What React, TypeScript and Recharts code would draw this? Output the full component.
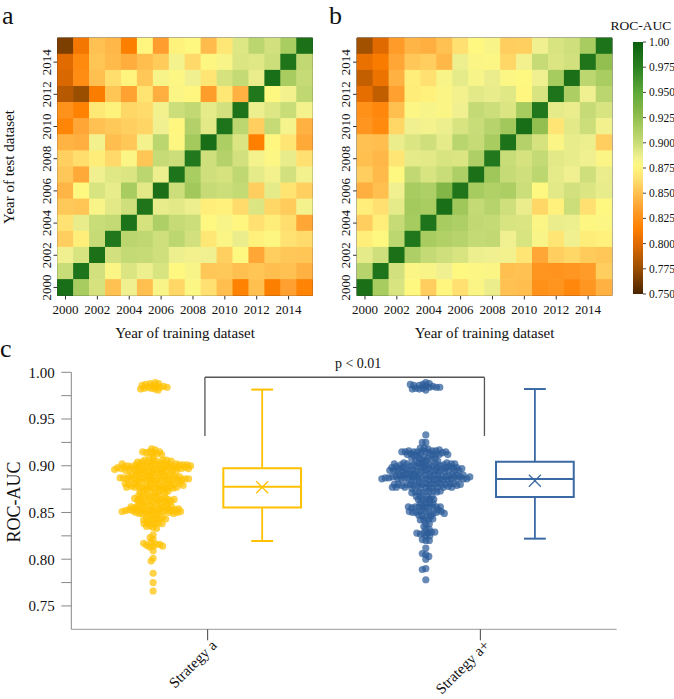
import React from 'react';
import {
  ScatterChart,
  ComposedChart,
  BarChart,
  Scatter,
  Bar,
  XAxis,
  YAxis,
  ReferenceArea,
  ReferenceLine,
  ReferenceDot,
} from 'recharts';

const FONT = '"Liberation Serif", "Times New Roman", serif';

// training / test years
const years = [2000, 2001, 2002, 2003, 2004, 2005, 2006, 2007, 2008, 2009, 2010, 2011, 2012, 2013, 2014, 2015];
const yearTicks = [2000, 2002, 2004, 2006, 2008, 2010, 2012, 2014];

// ROC-AUC, strategy a. rows = test year 2015 down to 2000, cols = training year 2000..2015
const aucA = [
  [0.766, 0.809, 0.851, 0.846, 0.814, 0.876, 0.834, 0.874, 0.877, 0.848, 0.868, 0.893, 0.906, 0.897, 0.914, 0.986],
  [0.801, 0.821, 0.852, 0.847, 0.841, 0.849, 0.855, 0.884, 0.861, 0.878, 0.881, 0.894, 0.892, 0.899, 0.983, 0.903],
  [0.798, 0.823, 0.85, 0.863, 0.875, 0.853, 0.882, 0.879, 0.886, 0.867, 0.896, 0.902, 0.888, 0.988, 0.915, 0.901],
  [0.785, 0.775, 0.813, 0.852, 0.836, 0.866, 0.842, 0.88, 0.876, 0.833, 0.868, 0.843, 0.982, 0.877, 0.885, 0.904],
  [0.826, 0.816, 0.869, 0.874, 0.86, 0.862, 0.885, 0.899, 0.903, 0.89, 0.897, 0.985, 0.887, 0.893, 0.9, 0.884],
  [0.818, 0.838, 0.851, 0.854, 0.857, 0.859, 0.886, 0.876, 0.91, 0.891, 0.984, 0.905, 0.856, 0.901, 0.883, 0.843],
  [0.844, 0.842, 0.885, 0.849, 0.853, 0.884, 0.906, 0.878, 0.917, 0.989, 0.913, 0.894, 0.815, 0.876, 0.867, 0.839],
  [0.857, 0.863, 0.871, 0.861, 0.88, 0.852, 0.901, 0.899, 0.981, 0.898, 0.909, 0.897, 0.884, 0.879, 0.889, 0.864],
  [0.853, 0.839, 0.886, 0.892, 0.894, 0.906, 0.887, 0.984, 0.914, 0.898, 0.896, 0.904, 0.89, 0.885, 0.897, 0.885],
  [0.845, 0.877, 0.895, 0.889, 0.915, 0.891, 0.987, 0.899, 0.918, 0.901, 0.899, 0.902, 0.856, 0.89, 0.866, 0.857],
  [0.854, 0.852, 0.881, 0.891, 0.898, 0.983, 0.889, 0.891, 0.887, 0.872, 0.873, 0.862, 0.894, 0.86, 0.855, 0.884],
  [0.865, 0.889, 0.9, 0.902, 0.985, 0.896, 0.912, 0.901, 0.899, 0.877, 0.881, 0.876, 0.864, 0.871, 0.863, 0.838],
  [0.856, 0.872, 0.901, 0.982, 0.906, 0.904, 0.898, 0.905, 0.897, 0.868, 0.88, 0.888, 0.873, 0.878, 0.865, 0.862],
  [0.886, 0.895, 0.986, 0.897, 0.902, 0.901, 0.898, 0.887, 0.885, 0.886, 0.857, 0.877, 0.838, 0.856, 0.853, 0.852],
  [0.9, 0.984, 0.897, 0.88, 0.894, 0.887, 0.895, 0.877, 0.881, 0.853, 0.854, 0.85, 0.852, 0.849, 0.851, 0.843],
  [0.988, 0.915, 0.896, 0.851, 0.886, 0.85, 0.881, 0.86, 0.879, 0.864, 0.849, 0.816, 0.85, 0.814, 0.835, 0.817],
];

// ROC-AUC, strategy a+ (same layout)
const aucB = [
  [0.778, 0.8, 0.832, 0.845, 0.842, 0.851, 0.864, 0.877, 0.881, 0.856, 0.857, 0.886, 0.895, 0.898, 0.915, 0.985],
  [0.805, 0.812, 0.838, 0.853, 0.856, 0.846, 0.887, 0.88, 0.879, 0.86, 0.885, 0.901, 0.894, 0.897, 0.983, 0.925],
  [0.79, 0.806, 0.843, 0.872, 0.864, 0.881, 0.89, 0.882, 0.888, 0.879, 0.877, 0.886, 0.916, 0.987, 0.905, 0.914],
  [0.803, 0.789, 0.835, 0.871, 0.873, 0.88, 0.885, 0.891, 0.889, 0.892, 0.876, 0.895, 0.984, 0.913, 0.886, 0.906],
  [0.825, 0.82, 0.85, 0.879, 0.882, 0.88, 0.886, 0.902, 0.899, 0.894, 0.916, 0.982, 0.89, 0.888, 0.901, 0.895],
  [0.828, 0.821, 0.86, 0.886, 0.884, 0.887, 0.895, 0.9, 0.908, 0.918, 0.989, 0.925, 0.867, 0.891, 0.899, 0.885],
  [0.851, 0.849, 0.888, 0.894, 0.898, 0.89, 0.907, 0.901, 0.915, 0.985, 0.909, 0.896, 0.88, 0.889, 0.887, 0.856],
  [0.85, 0.846, 0.867, 0.89, 0.891, 0.895, 0.894, 0.912, 0.981, 0.9, 0.896, 0.902, 0.891, 0.889, 0.886, 0.88],
  [0.856, 0.847, 0.877, 0.903, 0.895, 0.9, 0.912, 0.986, 0.919, 0.901, 0.898, 0.905, 0.89, 0.886, 0.898, 0.888],
  [0.842, 0.85, 0.886, 0.915, 0.912, 0.933, 0.983, 0.916, 0.911, 0.913, 0.899, 0.877, 0.891, 0.897, 0.894, 0.889],
  [0.872, 0.864, 0.89, 0.917, 0.914, 0.988, 0.919, 0.902, 0.908, 0.898, 0.888, 0.86, 0.873, 0.899, 0.864, 0.877],
  [0.856, 0.872, 0.901, 0.916, 0.984, 0.915, 0.912, 0.903, 0.902, 0.895, 0.894, 0.88, 0.888, 0.887, 0.878, 0.879],
  [0.872, 0.877, 0.905, 0.982, 0.915, 0.911, 0.908, 0.902, 0.903, 0.886, 0.895, 0.881, 0.867, 0.886, 0.871, 0.873],
  [0.89, 0.898, 0.986, 0.912, 0.902, 0.898, 0.895, 0.887, 0.886, 0.885, 0.867, 0.838, 0.856, 0.86, 0.855, 0.853],
  [0.908, 0.984, 0.897, 0.88, 0.881, 0.886, 0.877, 0.879, 0.88, 0.85, 0.851, 0.828, 0.827, 0.829, 0.832, 0.856],
  [0.987, 0.915, 0.895, 0.877, 0.856, 0.876, 0.864, 0.88, 0.888, 0.851, 0.849, 0.825, 0.828, 0.82, 0.829, 0.843],
];

const colorbarTicks = [0.75, 0.775, 0.8, 0.825, 0.85, 0.875, 0.9, 0.925, 0.95, 0.975, 1];

// panel c
const strategies = ['Strategy a', 'Strategy a+'];
const boxMin = [0.8195, 0.822];
const boxQ1 = [0.8552, 0.8666];
const boxMedian = [0.8776, 0.8859];
const boxQ3 = [0.8973, 0.9044];
const boxMax = [0.9815, 0.9821];
const boxMean = [0.877, 0.884];
const rocTicks = [0.75, 0.775, 0.8, 0.825, 0.85, 0.875, 0.9, 0.925, 0.95, 0.975, 1];
const pLabel = 'p < 0.01';

const seriesColors = ['#FFC000', '#2B5C98'];
const boxColors = ['#FFC000', '#3A69A4'];

// colour scale of the heatmaps
const cmap: [number, string][] = [
  [0.75, '#4a2400'],
  [0.775, '#9a4e00'],
  [0.8, '#e06a00'],
  [0.815, '#ff8000'],
  [0.825, '#ff9018'],
  [0.835, '#ffa030'],
  [0.85, '#ffc050'],
  [0.864, '#ffe070'],
  [0.877, '#fff880'],
  [0.886, '#f0f090'],
  [0.895, '#d8e480'],
  [0.9, '#c8dc78'],
  [0.915, '#a8cc60'],
  [0.93, '#88b848'],
  [0.95, '#5fa83a'],
  [0.975, '#2a8020'],
  [1, '#0a5f0e'],
];

const rgb = (h: string) => [1, 3, 5].map((i) => parseInt(h.slice(i, i + 2), 16));

const aucColor = (v: number) => {
  const c = Math.min(1, Math.max(0.75, v));
  let k = 0;
  while (k < cmap.length - 2 && c > cmap[k + 1][0]) k++;
  const [v0, h0] = cmap[k];
  const [v1, h1] = cmap[k + 1];
  const t = (c - v0) / (v1 - v0);
  const a = rgb(h0);
  const b = rgb(h1);
  const m = a.map((x, i) => Math.round(x + (b[i] - x) * t));
  return `rgb(${m[0]},${m[1]},${m[2]})`;
};

// heatmap geometry
const HM_H = 340;
const HM_TOP = 38;
const HM_XAXIS_H = 44.5;

const yearTickV = (p: any) => (
  <text
    x={p.x}
    y={p.y}
    transform={`rotate(-90 ${p.x} ${p.y})`}
    textAnchor="middle"
    fontSize={13}
    fill="#111"
    fontFamily={FONT}
  >
    {p.payload.value}
  </text>
);

function Heatmap({ matrix, width, yAxisWidth, right }: { matrix: number[][]; width: number; yAxisWidth: number; right: number }) {
  const cells = matrix.flatMap((row, i) => row.map((v, j) => ({ x: years[j], y: years[years.length - 1 - i], v })));
  const cw = (width - yAxisWidth - right) / years.length;
  const ch = (HM_H - HM_TOP - HM_XAXIS_H) / years.length;
  return (
    <ScatterChart width={width} height={HM_H} margin={{ top: HM_TOP, right, bottom: 0, left: 0 }}>
      <XAxis
        type="number"
        dataKey="x"
        domain={[1999.5, 2015.5]}
        ticks={yearTicks}
        interval={0}
        height={HM_XAXIS_H}
        tickSize={4}
        tickMargin={5}
        axisLine={false}
        tickLine={{ stroke: '#333' }}
        tick={{ fontSize: 13, fill: '#111', fontFamily: FONT }}
      />
      <YAxis
        type="number"
        dataKey="y"
        domain={[1999.5, 2015.5]}
        ticks={yearTicks}
        interval={0}
        width={yAxisWidth}
        tickSize={4}
        tickMargin={3}
        axisLine={false}
        tickLine={{ stroke: '#333' }}
        tick={yearTickV}
      />
      <Scatter
        data={cells}
        isAnimationActive={false}
        shape={(p: any) => (
          <rect
            x={p.cx - cw / 2 - 0.3}
            y={p.cy - ch / 2 - 0.3}
            width={cw + 0.6}
            height={ch + 0.6}
            fill={aucColor(p.payload.v)}
          />
        )}
      />
      <ReferenceArea x1={1999.5} x2={2015.5} y1={1999.5} y2={2015.5} fill="none" fillOpacity={0} stroke="#333" strokeWidth={1} />
    </ScatterChart>
  );
}

function Colorbar() {
  const data = [{ k: 'roc', r: [0.75, 1] }];
  return (
    <BarChart width={54} height={320} data={data} margin={{ top: 42, right: 0, bottom: 26, left: 13 }} barCategoryGap={0}>
      <defs>
        <linearGradient id="cbGrad" x1="0" y1="1" x2="0" y2="0">
          {cmap.map(([v, c]) => (
            <stop key={v} offset={(v - 0.75) / 0.25} stopColor={c} />
          ))}
        </linearGradient>
      </defs>
      <XAxis dataKey="k" hide />
      <YAxis
        orientation="right"
        type="number"
        domain={[0.75, 1]}
        ticks={colorbarTicks}
        interval={0}
        width={31}
        tickSize={3}
        tickMargin={3}
        axisLine={false}
        tickLine={{ stroke: '#444' }}
        tick={{ fontSize: 11.5, fill: '#111', fontFamily: FONT }}
        tickFormatter={(v: number) => (v === 1 ? '1.00' : v.toFixed(3))}
      />
      <Bar dataKey="r" fill="url(#cbGrad)" isAnimationActive={false} />
    </BarChart>
  );
}

// panel c geometry
const C_W = 674;
const C_H = 359;
const C_TOP = 32.3;
const C_LEFT = 71.3;
const C_RIGHT = 57.3;
const C_XAXIS_H = 69.7;
const Y_DOMAIN: [number, number] = [0.725, 1];
const SWARM_SHIFT = -0.2;
const BOX_SHIFT = 0.2;
const BOX_HALF = 0.1425;
const CAP_HALF = 0.04;
const DOT_GAP = 3.4;

// simple beeswarm: push each dot sideways until it no longer touches earlier dots
function swarmOffsets(values: number[], pxPerUnit: number, gap: number) {
  const placed: { x: number; y: number }[] = [];
  return values.map((v) => {
    const y = v * pxPerUnit;
    const near = placed.filter((p) => Math.abs(p.y - y) < gap);
    let off = 0;
    for (let k = 0; k < 800; k++) {
      const c = (k % 2 ? -1 : 1) * Math.ceil(k / 2) * 0.5;
      if (near.every((p) => (p.x - c) ** 2 + (p.y - y) ** 2 >= gap * gap)) {
        off = c;
        break;
      }
    }
    placed.push({ x: off, y });
    return off;
  });
}

const strategyTick = (p: any) => {
  const x = p.x + 10;
  const y = p.y + 4;
  const i = Math.round(p.payload.value - 0.5);
  return (
    <text x={x} y={y} transform={`rotate(-45 ${x} ${y})`} textAnchor="end" fontSize={15} fill="#111" fontFamily={FONT}>
      {strategies[i]}
    </text>
  );
};

function BoxPanel() {
  const pxX = (C_W - C_LEFT - C_RIGHT) / strategies.length;
  const pxY = (C_H - C_TOP - C_XAXIS_H) / (Y_DOMAIN[1] - Y_DOMAIN[0]);
  const swarms = [aucA, aucB].map((m, i) => {
    const vals = m.flat();
    const offs = swarmOffsets(vals, pxY, DOT_GAP);
    return vals.map((v, j) => ({ x: i + 0.5 + SWARM_SHIFT + offs[j] / pxX, y: v }));
  });

  const boxes = strategies.map((_, i) => {
    const cx = i + 0.5 + BOX_SHIFT;
    const col = boxColors[i];
    const seg = (x1: number, y1: number, x2: number, y2: number, key: string, w = 2) => (
      <ReferenceLine
        key={`${key}${i}`}
        segment={[
          { x: x1, y: y1 },
          { x: x2, y: y2 },
        ]}
        stroke={col}
        strokeWidth={w}
      />
    );
    return [
      <ReferenceArea
        key={`box${i}`}
        x1={cx - BOX_HALF}
        x2={cx + BOX_HALF}
        y1={boxQ1[i]}
        y2={boxQ3[i]}
        fill="none"
        fillOpacity={0}
        stroke={col}
        strokeWidth={2}
      />,
      seg(cx - BOX_HALF, boxMedian[i], cx + BOX_HALF, boxMedian[i], 'med'),
      seg(cx, boxQ3[i], cx, boxMax[i], 'wu', 1.8),
      seg(cx, boxQ1[i], cx, boxMin[i], 'wl', 1.8),
      seg(cx - CAP_HALF, boxMax[i], cx + CAP_HALF, boxMax[i], 'cu'),
      seg(cx - CAP_HALF, boxMin[i], cx + CAP_HALF, boxMin[i], 'cl'),
    ];
  });

  const means = strategies.map((_, i) => ({ x: i + 0.5 + BOX_SHIFT, y: boxMean[i] }));

  const bx1 = 0.49;
  const bx2 = 1.515;
  const bTop = 0.9947;
  const bBot = 0.9319;

  return (
    <ComposedChart width={C_W} height={C_H} margin={{ top: C_TOP, right: C_RIGHT, bottom: 0, left: 0 }}>
      <XAxis
        type="number"
        dataKey="x"
        domain={[0, 2]}
        ticks={[0.5, 1.5]}
        interval={0}
        height={C_XAXIS_H}
        tickSize={11}
        axisLine={{ stroke: '#999' }}
        tickLine={{ stroke: '#444' }}
        tick={strategyTick}
      />
      <YAxis
        type="number"
        dataKey="y"
        domain={Y_DOMAIN}
        ticks={rocTicks}
        interval={0}
        width={C_LEFT}
        tickSize={10}
        tickMargin={6.5}
        axisLine={{ stroke: '#888' }}
        tickLine={{ stroke: '#888' }}
        tick={{ fontSize: 15, fill: '#111', fontFamily: FONT }}
        tickFormatter={(v: number) => (Math.round(v * 1000) % 50 === 0 ? v.toFixed(2) : '')}
      />
      {swarms.map((d, i) => (
        <Scatter
          key={`sw${i}`}
          data={d}
          isAnimationActive={false}
          shape={(p: any) => <circle cx={p.cx} cy={p.cy} r={3.6} fill={seriesColors[i]} fillOpacity={0.72} />}
        />
      ))}
      {boxes}
      {means.map((m, i) => (
        <Scatter
          key={`mean${i}`}
          data={[m]}
          isAnimationActive={false}
          shape={(p: any) => (
            <g stroke={boxColors[i]} strokeWidth={1.2}>
              <line x1={p.cx - 6} y1={p.cy - 6} x2={p.cx + 6} y2={p.cy + 6} />
              <line x1={p.cx - 6} y1={p.cy + 6} x2={p.cx + 6} y2={p.cy - 6} />
            </g>
          )}
        />
      ))}
      <ReferenceLine segment={[{ x: bx1, y: bBot }, { x: bx1, y: bTop }]} stroke="#555" strokeWidth={1.3} />
      <ReferenceLine segment={[{ x: bx1, y: bTop }, { x: bx2, y: bTop }]} stroke="#555" strokeWidth={1.3} />
      <ReferenceLine segment={[{ x: bx2, y: bTop }, { x: bx2, y: bBot }]} stroke="#555" strokeWidth={1.3} />
      <ReferenceDot
        x={1.052}
        y={bTop}
        r={0}
        fill="none"
        stroke="none"
        label={{ value: pLabel, position: 'top', offset: 9, fontSize: 14, fill: '#111', fontFamily: FONT }}
      />
    </ComposedChart>
  );
}

export default function App() {
  const abs = (left: number, top: number): React.CSSProperties => ({ position: 'absolute', left, top });
  return (
    <div style={{ position: 'fixed', left: 0, top: 0, width: 674, height: 699, background: '#fff', overflow: 'hidden', fontFamily: FONT }}>
      <style>{`.recharts-wrapper text { font-family: ${FONT}; }`}</style>
      <div style={abs(0, 0)}>
        <Heatmap matrix={aucA} width={315} yAxisWidth={57.5} right={2.5} />
      </div>
      <div style={abs(300, 0)}>
        <Heatmap matrix={aucB} width={320} yAxisWidth={57} right={8} />
      </div>
      <div style={abs(620, 0)}>
        <Colorbar />
      </div>
      <div style={abs(0, 340)}>
        <BoxPanel />
      </div>
      <svg width={674} height={699} style={{ position: 'absolute', left: 0, top: 0, pointerEvents: 'none' }} fontFamily={FONT} fill="#111">
        <text x={2} y={24} fontSize={26}>a</text>
        <text x={329} y={24} fontSize={26}>b</text>
        <text x={0} y={357} fontSize={26}>c</text>
        <text x={14} y={167} fontSize={15} textAnchor="middle" transform="rotate(-90 14 167)">Year of test dataset</text>
        <text x={185} y={338} fontSize={15} textAnchor="middle">Year of training dataset</text>
        <text x={484.5} y={338} fontSize={15} textAnchor="middle">Year of training dataset</text>
        <text x={641} y={30} fontSize={13.5} textAnchor="middle">ROC-AUC</text>
        <text x={19.5} y={502} fontSize={18} textAnchor="middle" transform="rotate(-90 19.5 502)">ROC-AUC</text>
      </svg>
    </div>
  );
}
